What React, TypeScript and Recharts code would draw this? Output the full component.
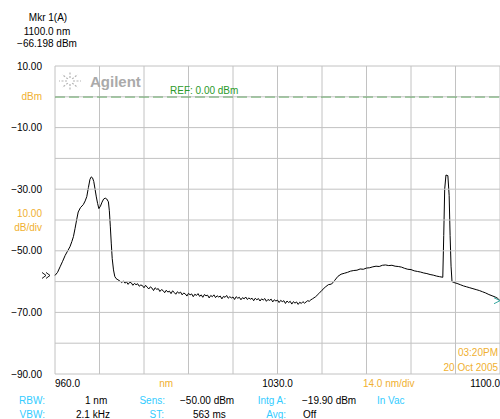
import React from 'react';
import { LineChart, Line, XAxis, YAxis, ReferenceLine } from 'recharts';

const wavelengths: number[] = [
  960.0, 960.8, 961.6, 962.4, 963.2, 964.0, 964.7, 965.3, 965.8, 966.3, 966.8, 967.3, 968.0, 968.9, 969.5, 970.0,
  970.5, 971.0, 971.4, 971.8, 972.2, 972.6, 973.0, 973.4, 973.8, 974.3, 974.8, 975.3, 975.8, 976.3, 976.8, 977.1,
  977.4, 977.7, 978.0, 978.4, 978.8, 979.2, 979.8, 980.5,
  981.0, 981.5, 982.0, 982.5, 983.0, 983.5, 984.0, 984.5, 985.0, 985.5, 986.0, 986.5, 987.0, 987.5, 988.0, 988.5,
  989.0, 989.5, 990.0, 990.5, 991.0, 991.5, 992.0, 992.5, 993.0, 993.5, 994.0, 994.5, 995.0, 995.5, 996.0, 996.5,
  997.0, 997.5, 998.0, 998.5, 999.0, 999.5, 1000.0, 1000.5, 1001.0, 1001.5, 1002.0, 1002.5, 1003.0, 1003.5, 1004.0, 1004.5,
  1005.0, 1005.5, 1006.0, 1006.5, 1007.0, 1007.5, 1008.0, 1008.5, 1009.0, 1009.5, 1010.0, 1010.5, 1011.0, 1011.5, 1012.0, 1012.5,
  1013.0, 1013.5, 1014.0, 1014.5, 1015.0, 1015.5, 1016.0, 1016.5, 1017.0, 1017.5, 1018.0, 1018.5, 1019.0, 1019.5, 1020.0, 1020.5,
  1021.0, 1021.5, 1022.0, 1022.5, 1023.0, 1023.5, 1024.0, 1024.5, 1025.0, 1025.5, 1026.0, 1026.5, 1027.0, 1027.5, 1028.0, 1028.5,
  1029.0, 1029.5, 1030.0, 1030.5, 1031.0, 1031.5, 1032.0, 1032.5, 1033.0, 1033.5, 1034.0, 1034.5, 1035.0, 1035.5, 1036.0, 1036.5,
  1037.0, 1037.5, 1038.0, 1038.5, 1039.0, 1039.5, 1040.0, 1040.5, 1041.0,
  1042, 1043, 1044, 1045, 1046, 1047, 1048, 1049, 1050, 1051, 1052, 1053, 1054, 1055, 1056, 1057, 1058, 1059, 1060,
  1061, 1062, 1063, 1064, 1065, 1066, 1067, 1068, 1069, 1070, 1071, 1072, 1073, 1074, 1075, 1076, 1077, 1078, 1079, 1080,
  1081, 1082, 1082.3, 1082.6, 1083.0, 1083.6, 1084.0, 1084.3, 1084.6, 1084.9, 1085.5, 1086.5, 1087.5, 1088.5, 1089.5,
  1090.5, 1091.5, 1092.5, 1093.5, 1094.5, 1095.5, 1096.5, 1097.5, 1098.5, 1099.2, 1100
];

const powerDbm: number[] = [
  -58.0, -57.0, -55.2, -53.4, -51.5, -50.0, -48.7, -47.0, -45.4, -42.8, -40.0, -37.4, -36.0, -35.0, -33.8, -32.4,
  -29.5, -26.8, -26.0, -26.3, -27.5, -30.0, -32.5, -34.6, -36.3, -35.5, -34.2, -33.2, -32.9, -33.2, -34.1, -37.0,
  -42.0, -47.5, -52.5, -56.2, -58.3, -59.0, -59.4, -59.9,
  -60.3, -59.8, -60.5, -60.1, -60.9, -60.2, -60.4, -61.2, -60.6, -61.0, -60.7, -61.5, -61.1, -61.3, -62.0, -61.2,
  -61.8, -62.4, -61.7, -62.1, -62.9, -62.0, -62.5, -62.3, -63.2, -62.6, -62.9, -63.6, -62.8, -63.4, -63.1, -63.9,
  -63.0, -63.5, -64.1, -63.3, -63.8, -63.4, -64.3, -63.7, -64.0, -64.7, -63.8, -64.3, -64.0, -64.9, -64.1, -64.5,
  -63.9, -64.8, -64.3, -65.1, -64.2, -64.6, -64.4, -65.3, -64.5, -64.9, -64.3, -65.2, -64.6, -65.0, -64.7, -65.6,
  -64.8, -65.1, -64.5, -65.4, -64.9, -65.3, -65.0, -65.8, -64.9, -65.4, -65.1, -65.9, -65.2, -65.6, -65.0, -65.8,
  -65.3, -65.7, -65.4, -66.2, -65.4, -65.9, -65.5, -66.3, -65.6, -66.0, -65.5, -66.4, -65.8, -66.1, -65.7, -66.6,
  -65.9, -66.3, -66.0, -66.8, -66.1, -66.5, -66.2, -67.1, -66.3, -66.8, -66.4, -67.3, -66.5, -67.0, -66.6, -67.4,
  -66.7, -67.1, -66.5, -67.0, -66.6, -66.2, -66.4, -65.9, -65.6,
  -64.9, -63.9, -62.8, -61.8, -61.0, -60.8, -59.6, -58.3, -57.6, -57.3, -57.0, -56.6, -56.4, -56.3, -55.9, -56.0, -55.6, -55.5, -55.2,
  -55.0, -55.1, -54.7, -54.6, -54.8, -54.7, -55.0, -55.1, -55.3, -55.7, -56.0, -56.1, -56.5, -56.7, -56.9, -57.2, -57.4, -57.7, -57.9, -58.2,
  -58.4, -58.6, -45.0, -30.0, -25.4, -25.6, -32.0, -45.0, -55.0, -60.0, -60.3, -60.6, -61.0, -61.4, -61.7,
  -62.0, -62.3, -62.6, -62.9, -63.3, -63.7, -64.2, -64.6, -65.0, -65.4, -66.2
];

const gridXTicks: number[] = [960, 974, 988, 1002, 1016, 1030, 1044, 1058, 1072, 1086, 1100];
const gridYTicks: number[] = [10, 0, -10, -20, -30, -40, -50, -60, -70, -80, -90];
const labelXTicks: number[] = [960, 995, 1030, 1065, 1100];
const labelXText: string[] = ['960.0', 'nm', '1030.0', '14.0 nm/div', '1100.0'];
const yTickText: Record<string, string> = {
  '10': '10.00', '0': 'dBm', '-10': '\u221210.00', '-30': '\u221230.00', '-50': '\u221250.00', '-70': '\u221270.00', '-90': '\u221290.00'
};

const data = wavelengths.map((w, i) => ({ w, p: powerDbm[i] }));

const CHART_W = 500;
const CHART_H = 419;
const Y_AXIS_W = 55;
const Y_TICK_MARGIN = 13;
const PLOT_W = CHART_W - Y_AXIS_W;

const FONT = '"Liberation Sans", Arial, Helvetica, sans-serif';
const ORANGE = '#f0b030';
const CYAN = '#33ccff';
const GREEN = '#2a9a2a';
const GRID = '#c2c2c2';

const XTick = (props: any) => {
  const { x, y, payload } = props;
  const v = payload.value;
  const idx = labelXTicks.indexOf(v);
  const txt = labelXText[idx] ?? '';
  const anchor = idx === 0 ? 'start' : idx === labelXTicks.length - 1 ? 'end' : 'middle';
  const orange = idx === 1 || idx === 3;
  return (
    <text x={x} y={y + 12.5} textAnchor={anchor} fontSize={10} fontFamily={FONT} fill={orange ? ORANGE : '#000'}>
      {txt}
    </text>
  );
};

const YTick = (props: any) => {
  const { x, y, payload } = props;
  const v = payload.value;
  const gx = x + Y_TICK_MARGIN;
  const grid = <line x1={gx} x2={gx + PLOT_W} y1={y} y2={y} stroke={GRID} strokeWidth={1} />;
  if (v === -40) {
    return (
      <g>
        {grid}
        <text x={x} y={y - 3} textAnchor="end" fontSize={10} fontFamily={FONT} fill={ORANGE}>10.00</text>
        <text x={x} y={y + 10.5} textAnchor="end" fontSize={10} fontFamily={FONT} fill={ORANGE}>dB/div</text>
      </g>
    );
  }
  const txt = yTickText[String(v)] ?? '';
  return (
    <g>
      {grid}
      <text x={x} y={y + 3.5} textAnchor="end" fontSize={10} fontFamily={FONT} fill={v === 0 ? ORANGE : '#000'}>
        {txt}
      </text>
    </g>
  );
};

const TraceDot = (props: any) => {
  const { cx, cy, index } = props;
  if (index === 0) {
    const x0 = cx - 13;
    return (
      <g stroke="#000" strokeWidth={0.9} fill="none">
        <path d={`M${x0} ${cy - 3} L${x0 + 4} ${cy} L${x0} ${cy + 3}`} />
        <path d={`M${x0 + 4} ${cy - 3} L${x0 + 8} ${cy} L${x0 + 4} ${cy + 3}`} />
      </g>
    );
  }
  if (index === wavelengths.length - 1) {
    return (
      <g stroke="#3aa8a0" strokeWidth={1} fill="none">
        <path d={`M${cx - 6} ${cy - 3} L${cx} ${cy} L${cx - 6} ${cy + 3}`} />
      </g>
    );
  }
  return <g />;
};

const rays = [0, 45, 90, 135, 180, 225, 270, 315];

export default function App() {
  return (
    <div style={{ position: 'absolute', left: 0, top: 0, width: CHART_W, height: CHART_H, background: '#fff' }}>
      <LineChart width={CHART_W} height={CHART_H} data={data} margin={{ top: 66, right: 0, bottom: 25, left: 0 }}>
        <XAxis dataKey="w" type="number" domain={[960, 1100]} ticks={labelXTicks} height={20}
          tick={<XTick />} tickLine={false} axisLine={false} tickSize={0} tickMargin={0} interval={0} />
        <YAxis type="number" domain={[-90, 10]} ticks={gridYTicks} width={Y_AXIS_W} interval={0}
          tick={<YTick />} tickLine={false} axisLine={false} tickSize={0} tickMargin={Y_TICK_MARGIN} />
        {gridXTicks.map((v) => (
          <ReferenceLine key={`v${v}`} x={v} stroke={GRID} strokeWidth={1} />
        ))}
        <ReferenceLine y={0} stroke={GREEN} strokeWidth={1.2} strokeDasharray="10 4" />
        <Line type="linear" dataKey="p" stroke="#000" strokeWidth={1} dot={<TraceDot />} isAnimationActive={false} />
      </LineChart>
      <svg width={CHART_W} height={CHART_H} style={{ position: 'absolute', left: 0, top: 0, pointerEvents: 'none' }}
        fontFamily={FONT} fontSize={10}>
        <text x={48} y={21} textAnchor="middle">Mkr 1(A)</text>
        <text x={47} y={34.5} textAnchor="middle">1100.0 nm</text>
        <text x={47} y={47} textAnchor="middle">{'\u221266.198 dBm'}</text>

        <g stroke="#b4b4b4" strokeWidth={1.2} strokeDasharray="2 1.5">
          {rays.map((a) => {
            const r = (a * Math.PI) / 180;
            return (
              <line key={a} x1={70 + Math.cos(r) * 3} y1={81 + Math.sin(r) * 3}
                x2={70 + Math.cos(r) * 11} y2={81 + Math.sin(r) * 9} />
            );
          })}
        </g>
        <text x={90} y={87} fontSize={15} fontWeight="bold" fill="#aaaaaa">Agilent</text>
        <text x={170} y={94} fill={GREEN}>REF: 0.00 dBm</text>

        <text x={498} y={355.5} textAnchor="end" fill={ORANGE}>03:20PM</text>
        <text x={498} y={370.5} textAnchor="end" fill={ORANGE}>20 Oct 2005</text>

        <text x={45} y={404} textAnchor="end" fill={CYAN}>RBW:</text>
        <text x={45} y={417.5} textAnchor="end" fill={CYAN}>VBW:</text>
        <text x={85} y={404}>1 nm</text>
        <text x={76} y={417.5}>2.1 kHz</text>
        <text x={165} y={404} textAnchor="end" fill={CYAN}>Sens:</text>
        <text x={164} y={417.5} textAnchor="end" fill={CYAN}>ST:</text>
        <text x={180} y={404}>{'\u221250.00 dBm'}</text>
        <text x={193} y={417.5}>563 ms</text>
        <text x={286} y={404} textAnchor="end" fill={CYAN}>Intg A:</text>
        <text x={286} y={417.5} textAnchor="end" fill={CYAN}>Avg:</text>
        <text x={302} y={404}>{'\u221219.90 dBm'}</text>
        <text x={303} y={417.5}>Off</text>
        <text x={377} y={404} fill={CYAN}>In Vac</text>
      </svg>
    </div>
  );
}
